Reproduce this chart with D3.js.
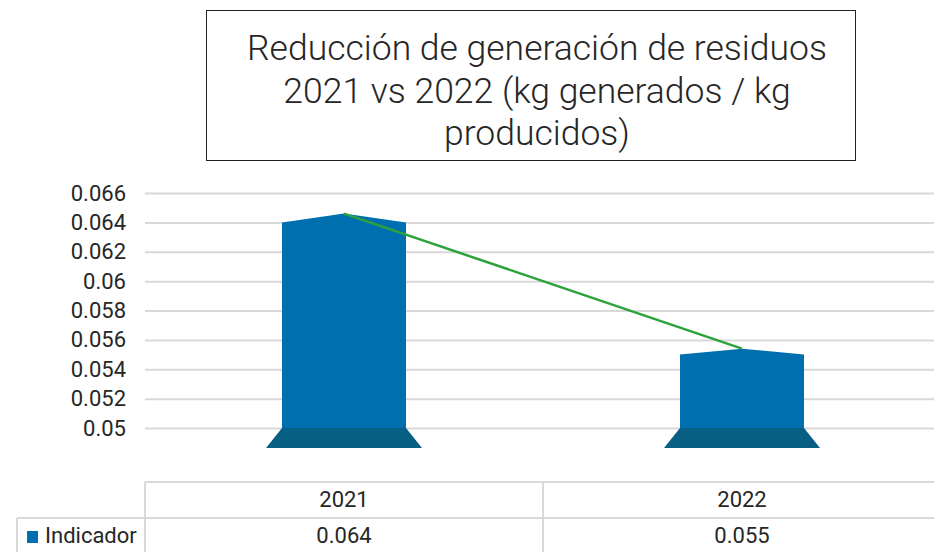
<!DOCTYPE html>
<meta charset="utf-8">
<html>
<head>
  <script src="https://d3js.org/d3.v7.min.js"></script>
  <style>
    body { margin: 0; background: #fff; }
    text { font-family: Roboto, sans-serif; fill: #262626; }
  </style>
</head>
<body>
<script>
// chart data
const categories = ["2021", "2022"];
const values = [0.064, 0.055];          // bar heights ("Indicador")
const peakValues = [0.0646, 0.0554];    // green trend line (tops of the bars)
const tableLabels = ["0.064", "0.055"];
const yTicks = [0.05, 0.052, 0.054, 0.056, 0.058, 0.06, 0.062, 0.064, 0.066];
const seriesName = "Indicador";
const titleLines = ["Reducción de generación de residuos", "2021 vs 2022 (kg generados / kg", "producidos)"];

const W = 934, H = 552;
const svg = d3.select("body").append("svg")
  .attr("width", W).attr("height", H);

svg.append("rect").attr("width", W).attr("height", H).attr("fill", "#fff");

const x = d3.scaleBand().domain(categories).range([145, 941]);
const y = d3.scaleLinear().domain([0.05, 0.066]).range([428, 193]);
const barW = 124, baseSpread = 16, baseH = 20;

// gridlines + tick labels
const axis = svg.append("g")
  .attr("transform", "translate(145,0)")
  .call(d3.axisLeft(y).tickValues(yTicks).tickSize(-(W - 145)).tickPadding(19)
    .tickFormat(d3.format("~r")));
axis.select(".domain").remove();
axis.selectAll(".tick line").attr("stroke", "#d9d9d9").attr("stroke-width", 2);
axis.selectAll(".tick text").attr("font-size", 22).attr("fill", "#262626")
  .style("font-family", "Roboto, sans-serif");

// bars (pentagon shape)
svg.selectAll(".bar").data(categories).join("path")
  .attr("class", "bar")
  .attr("fill", "#006FB0")
  .attr("d", (c, i) => {
    const x0 = x(c) + (x.bandwidth() - barW) / 2, x1 = x0 + barW, cx = x0 + barW / 2;
    return `M${x0},${y(0.05)}L${x0},${y(values[i])}L${cx},${y(peakValues[i])}L${x1},${y(values[i])}L${x1},${y(0.05)}Z`;
  });

// base trapezoids
svg.selectAll(".base").data(categories).join("path")
  .attr("class", "base")
  .attr("fill", "#075F84")
  .attr("d", c => {
    const x0 = x(c) + (x.bandwidth() - barW) / 2, x1 = x0 + barW, b = y(0.05);
    return `M${x0},${b}L${x1},${b}L${x1 + baseSpread},${b + baseH}L${x0 - baseSpread},${b + baseH}Z`;
  });

// trend line
svg.append("path")
  .datum(categories)
  .attr("fill", "none")
  .attr("stroke", "#2BA33A")
  .attr("stroke-width", 2.5)
  .attr("d", d3.line().x(c => x(c) + x.bandwidth() / 2).y((c, i) => y(peakValues[i])));

// title box
svg.append("rect")
  .attr("x", 206.5).attr("y", 10.5).attr("width", 649).attr("height", 150)
  .attr("fill", "#fff").attr("stroke", "#222").attr("stroke-width", 1);
svg.append("g").selectAll("text").data(titleLines).join("text")
  .attr("x", 537).attr("y", (d, i) => 60 + i * 42.5)
  .attr("text-anchor", "middle").attr("font-size", 35.5).attr("font-weight", 300)
  .attr("fill", "#111")
  .text(d => d);

// data table
const grid = "#d9d9d9";
const tbl = svg.append("g").attr("stroke", grid).attr("stroke-width", 2);
tbl.append("line").attr("x1", 145).attr("x2", W).attr("y1", 482).attr("y2", 482);
tbl.append("line").attr("x1", 17).attr("x2", W).attr("y1", 518).attr("y2", 518);
tbl.append("line").attr("x1", 145).attr("x2", 145).attr("y1", 482).attr("y2", H);
tbl.append("line").attr("x1", 17).attr("x2", 17).attr("y1", 518).attr("y2", H);
tbl.selectAll(".sep").data(categories.slice(1)).join("line")
  .attr("x1", c => x(c)).attr("x2", c => x(c)).attr("y1", 482).attr("y2", H);

svg.selectAll(".hdr").data(categories).join("text")
  .attr("class", "hdr")
  .attr("x", c => x(c) + x.bandwidth() / 2).attr("y", 507)
  .attr("text-anchor", "middle").attr("font-size", 22).text(c => c);
svg.selectAll(".val").data(tableLabels).join("text")
  .attr("class", "val")
  .attr("x", (d, i) => x(categories[i]) + x.bandwidth() / 2).attr("y", 543)
  .attr("text-anchor", "middle").attr("font-size", 22).text(d => d);

svg.append("rect").attr("x", 27).attr("y", 531).attr("width", 11).attr("height", 12).attr("fill", "#006FB0");
svg.append("text").attr("x", 45).attr("y", 543).attr("font-size", 22).text(seriesName);
</script>
</body>
</html>
